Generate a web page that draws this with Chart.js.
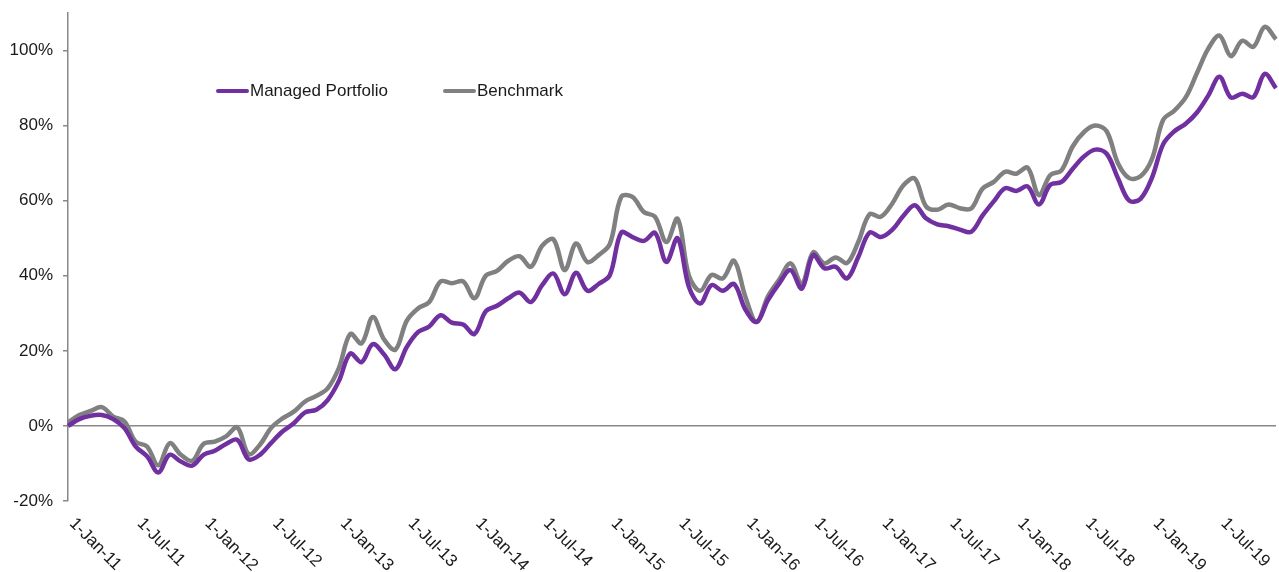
<!DOCTYPE html>
<html>
<head>
<meta charset="utf-8">
<script src="https://cdn.jsdelivr.net/npm/chart.js@4.4.1/dist/chart.umd.min.js"></script>
<style>
  html, body { margin: 0; padding: 0; background: #fff; }
  #wrap { width: 1279px; height: 572px; }
</style>
</head>
<body>
<div id="wrap"><canvas id="perf-chart" width="1279" height="572"></canvas></div>
<script>
// Monthly observations, Jan-2011 .. Dec-2019
const monthNames = ['Jan', 'Feb', 'Mar', 'Apr', 'May', 'Jun', 'Jul', 'Aug', 'Sep', 'Oct', 'Nov', 'Dec'];
const years = ['11', '12', '13', '14', '15', '16', '17', '18', '19'];
const months = [];
years.forEach(function(yy) {
    monthNames.forEach(function(m) { months.push('1-' + m + '-' + yy); });
});

// Cumulative return, %
const portfolio = [
    0, 1.8, 2.7, 2.9, 1.8, -0.6, -5.5, -8.1, -12.4, -7.7, -9.5, -10.6,
    -7.7, -6.6, -4.8, -3.7, -8.9, -7.7, -4.5, -1.5, 0.7, 3.6, 4.3, 6.9,
    12, 19.3, 17, 21.8, 19, 15.1, 21, 25, 26.5, 29.5, 27.5, 27,
    24.5, 30.5, 32, 34, 35.5, 33, 37.5, 40.6, 35.1, 40.8, 36, 37.8,
    40.2, 51.5, 50.3, 49.3, 51.4, 43.7, 50, 37, 32.6, 37.5, 36, 37.8,
    31, 27.7, 33.5, 38, 41.5, 36.6, 45.5, 42, 42.4, 39.3, 45, 51.5,
    50.3, 52.2, 56, 58.8, 55.3, 53.7, 53.2, 52.3, 51.7, 56, 59.8, 63.3,
    62.6, 63.8, 59, 64.2, 65, 68.5, 71.8, 73.6, 72.5, 66, 60, 60.5,
    66, 75, 78.5, 80.5, 83.5, 88, 93, 87.5, 88.5, 87.6, 93.8, 90
];
const benchmark = [
    0.9, 2.9, 4, 5, 2.5, 1.2, -4.2, -5.5, -10.5, -4.6, -7.7, -9.3,
    -4.8, -4.2, -2.8, -0.4, -7.5, -5, -0.5, 2, 3.8, 6.5, 8, 10,
    15.5, 24.5, 22, 29, 23, 20.3, 28, 31.3, 33, 38.5, 38, 38.5,
    34, 40, 41.3, 44, 45.2, 42.4, 48, 49.7, 41.5, 48.6, 43.7, 45.5,
    48.5, 61, 61, 57, 55.7, 49, 55.2, 40, 36, 40.2, 39.3, 44,
    34.4, 27.7, 34.5, 39, 43.3, 37.8, 46.2, 43.3, 44.9, 43.4, 49, 56.4,
    55.7, 59.2, 64.1, 65.9, 58.5, 57.6, 59, 58, 57.9, 63.2, 65, 67.7,
    67.2, 68.8, 61.5, 66.8, 68.1, 74.5, 78.3, 80, 78.5, 70, 66, 66.5,
    71, 81.5, 84, 87.5, 94, 100.5, 104, 98.5, 102.6, 101, 106.3, 103
];

const yTicks = [-20, 0, 20, 40, 60, 80, 100];

const FONT = 'Arial, "Liberation Sans", sans-serif';
const PURPLE = '#7030a0';
const GREY = '#808080';
const TEXT = '#1a1a1a';

// rotated date labels every six months
const dateLabels = {
    id: 'dateLabels',
    afterDraw: function(chart) {
        const ctx = chart.ctx;
        const xs = chart.scales.x;
        const top = chart.chartArea.bottom + 20;
        ctx.save();
        ctx.font = '17px ' + FONT;
        ctx.fillStyle = TEXT;
        ctx.textAlign = 'left';
        ctx.textBaseline = 'middle';
        months.forEach(function(lbl, i) {
            if (i % 6 !== 0) return;
            const x = xs.getPixelForValue(i);
            ctx.save();
            ctx.translate(x + 4, top);
            ctx.rotate(Math.PI / 4);
            ctx.fillText(lbl, 0, 0);
            ctx.restore();
        });
        ctx.restore();
    }
};

// legend sitting inside the plot, like the original
const innerLegend = {
    id: 'innerLegend',
    afterDraw: function(chart) {
        const ctx = chart.ctx;
        const spots = [218, 445];
        ctx.save();
        ctx.font = '17px ' + FONT;
        ctx.textBaseline = 'middle';
        ctx.textAlign = 'left';
        chart.data.datasets.forEach(function(ds, i) {
            const x = spots[i];
            const y = 91;
            ctx.strokeStyle = ds.borderColor;
            ctx.lineWidth = 4;
            ctx.lineCap = 'round';
            ctx.beginPath();
            ctx.moveTo(x, y);
            ctx.lineTo(x + 29, y);
            ctx.stroke();
            ctx.fillStyle = TEXT;
            ctx.fillText(ds.label, x + 32, y);
        });
        ctx.restore();
    }
};

new Chart(document.getElementById('perf-chart'), {
    type: 'line',
    data: {
        labels: months,
        datasets: [{
            label: 'Managed Portfolio',
            data: portfolio,
            borderColor: PURPLE,
            borderWidth: 4.5,
            pointRadius: 0,
            tension: 0.35,
            fill: false
        }, {
            label: 'Benchmark',
            data: benchmark,
            borderColor: GREY,
            borderWidth: 4.5,
            pointRadius: 0,
            tension: 0.35,
            fill: false
        }]
    },
    options: {
        responsive: false,
        animation: false,
        layout: { padding: { top: 13, right: 3, left: 0, bottom: 0 } },
        plugins: {
            legend: { display: false },
            tooltip: { enabled: false }
        },
        scales: {
            x: {
                offset: false,
                grid: { display: false },
                border: { display: false },
                ticks: { display: false },
                afterFit: function(scale) { scale.height = 71; }
            },
            y: {
                min: -20,
                max: 110,
                afterBuildTicks: function(scale) {
                    scale.ticks = yTicks.map(function(v) { return { value: v }; });
                },
                border: { color: '#888', width: 1.5 },
                grid: {
                    color: function(c) { return c.tick && c.tick.value === 0 ? '#888' : 'rgba(0,0,0,0)'; },
                    lineWidth: 1.5,
                    tickColor: '#888',
                    tickLength: 5
                },
                ticks: {
                    color: TEXT,
                    padding: 10,
                    font: { family: FONT, size: 17 },
                    callback: function(v) { return v + '%'; }
                },
                afterFit: function(scale) {
                    scale.width = 68;
                    scale.paddingTop = 0;
                    scale.paddingBottom = 0;
                }
            }
        }
    },
    plugins: [dateLabels, innerLegend]
});
</script>
</body>
</html>
